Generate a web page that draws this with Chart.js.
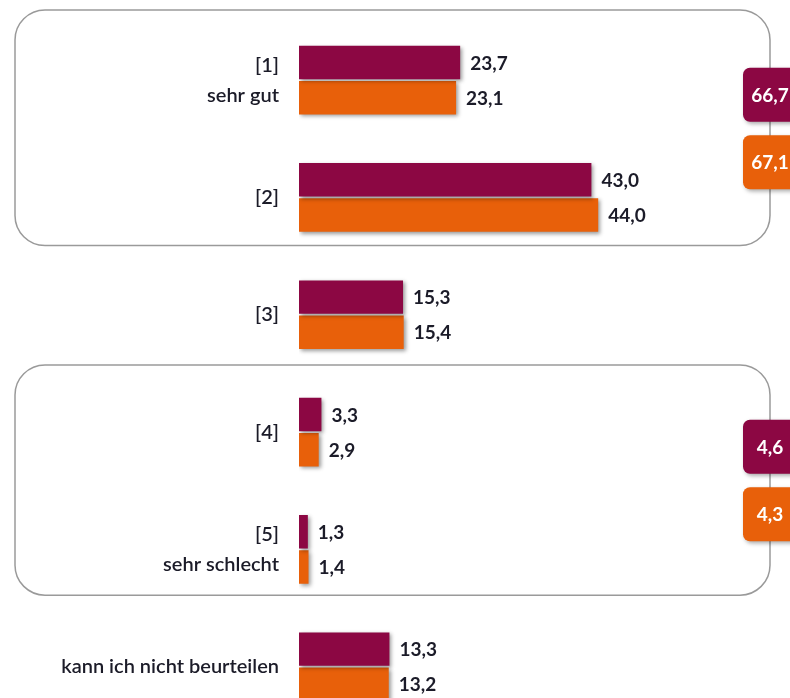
<!DOCTYPE html>
<html><head><meta charset="utf-8">
<script src="https://cdn.jsdelivr.net/npm/chart.js@4"></script>
<style>html,body{margin:0;padding:0;overflow:hidden;background:#fff;width:790px;height:698px}canvas{display:block}</style>
</head><body>
<canvas id="c" width="790" height="730" style="width:790px;height:730px"></canvas>
<script>
const categories = [['[1]','sehr gut'], '[2]', '[3]', '[4]', ['[5]','sehr schlecht'], 'kann ich nicht beurteilen'];
const seriesA = [23.7, 43.0, 15.3, 3.3, 1.3, 13.3];
const seriesB = [23.1, 44.0, 15.4, 2.9, 1.4, 13.2];
const groupTopA = 66.7, groupTopB = 67.1;
const groupLowA = 4.6, groupLowB = 4.3;
const colorA = '#8C0743';
const colorB = '#E8600A';
const FONT = "Lato, 'Liberation Sans', sans-serif";
const TEXT = '#1b1b28';
const fmt = v => v.toFixed(1).replace('.', ',');

function rr(ctx, x, y, w, h, r){
  ctx.beginPath();
  ctx.moveTo(x+r, y);
  ctx.lineTo(x+w-r, y); ctx.arcTo(x+w, y, x+w, y+r, r);
  ctx.lineTo(x+w, y+h-r); ctx.arcTo(x+w, y+h, x+w-r, y+h, r);
  ctx.lineTo(x+r, y+h); ctx.arcTo(x, y+h, x, y+h-r, r);
  ctx.lineTo(x, y+r); ctx.arcTo(x, y, x+r, y, r);
  ctx.closePath();
}

const deco = {
  id: 'deco',
  beforeDatasetsDraw(chart){
    const ctx = chart.ctx, ys = chart.scales.y;
    const step = ys.getPixelForValue(1) - ys.getPixelForValue(0);
    ctx.save();
    ctx.strokeStyle = '#9a9a9a'; ctx.lineWidth = 1.5;
    [[0,1,0.597,0.41],[3,4,0.572,0.39]].forEach(([a,b,ft,fb])=>{
      const top = ys.getPixelForValue(a) - ft*step;
      const bot = ys.getPixelForValue(b) + fb*step;
      rr(ctx, 15, top, 755, bot-top, 30);
      ctx.stroke();
    });
    ctx.restore();
  },
  afterDatasetsDraw(chart){
    const ctx = chart.ctx, ys = chart.scales.y;
    ctx.save();
    ctx.font = "bold 19px " + FONT;
    ctx.fillStyle = TEXT;
    ctx.textBaseline = 'middle';
    chart.data.datasets.forEach((ds, di)=>{
      chart.getDatasetMeta(di).data.forEach((bar, i)=>{
        ctx.fillText(fmt(ds.data[i]), bar.x + 10, bar.y + 1);
      });
    });
    const step = ys.getPixelForValue(1) - ys.getPixelForValue(0);
    const groups = [[0,1,groupTopA,groupTopB],[3,4,groupLowA,groupLowB]];
    groups.forEach(([a,b,va,vb])=>{
      const mid = (ys.getPixelForValue(a)+ys.getPixelForValue(b))/2;
      [[va,colorA,mid-0.375*step],[vb,colorB,mid+0.2*step]].forEach(([v,c,cy])=>{
        ctx.save();
        ctx.shadowColor = 'rgba(0,0,0,0.35)'; ctx.shadowBlur = 4; ctx.shadowOffsetX = 2; ctx.shadowOffsetY = 2;
        ctx.fillStyle = c;
        rr(ctx, 743, cy-27, 60, 54, 7);
        ctx.fill();
        ctx.restore();
        ctx.fillStyle = '#ffffff';
        ctx.font = "bold 19px " + FONT;
        ctx.textAlign = 'center';
        ctx.fillText(fmt(v), 770, cy+1);
        ctx.textAlign = 'left';
      });
    });
    ctx.restore();
  }
};

const shadow = {
  id: 'shadow',
  beforeDatasetDraw(chart){
    const ctx = chart.ctx;
    ctx.save();
    ctx.shadowColor = 'rgba(0,0,0,0.4)'; ctx.shadowBlur = 4; ctx.shadowOffsetX = 2; ctx.shadowOffsetY = 2;
  },
  afterDatasetDraw(chart){ chart.ctx.restore(); }
};

new Chart(document.getElementById('c'), {
  type: 'bar',
  data: {
    labels: categories,
    datasets: [
      {data: seriesA, backgroundColor: colorA, borderWidth: 0},
      {data: seriesB, backgroundColor: colorB, borderWidth: 0}
    ]
  },
  options: {
    indexAxis: 'y',
    responsive: false,
    maintainAspectRatio: false,
    animation: false,
    devicePixelRatio: 1,
    categoryPercentage: 0.6,
    barPercentage: 0.95,
    layout: {padding: {top: 21.4, bottom: 4.6, left: 0, right: 15}},
    plugins: {legend: {display: false}, tooltip: {enabled: false}},
    scales: {
      x: {display: false, min: 0, max: 70},
      y: {
        grid: {display: false, drawTicks: false}, border: {display: false},
        ticks: {color: TEXT, font: {family: FONT, size: 20, weight: '600', lineHeight: 1.5}, padding: 20, crossAlign: 'near'},
        afterFit(s){ s.width = 299; s.paddingTop = 0; s.paddingBottom = 0; }
      }
    }
  },
  plugins: [shadow, deco]
});
</script>
</body></html>
